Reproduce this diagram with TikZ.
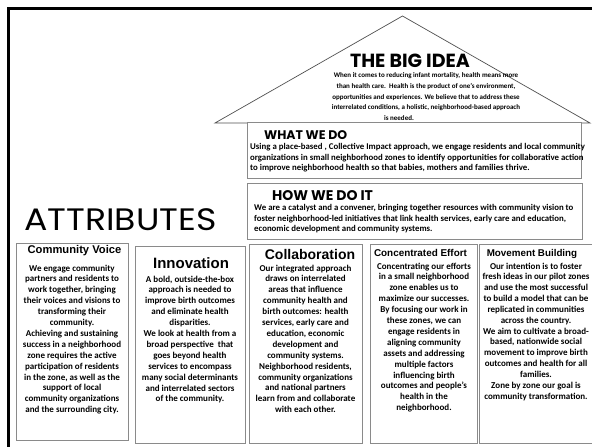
\documentclass[tikz,border=0pt]{standalone}
\usepackage{fontspec}
\usepackage{graphicx}
\setmainfont{Carlito}
\newfontfamily\arialf{Liberation Sans}
\newfontfamily\gothic{Poppins}
\definecolor{boxgray}{HTML}{8A8A8A}
\definecolor{roofgray}{HTML}{505050}
\begin{document}
\begin{tikzpicture}[x=1pt,y=-1pt,
  box/.style={draw=boxgray, line width=1pt},
  colbody/.style={font=\fontsize{9}{10.9}\selectfont\bfseries, align=center, inner sep=0pt, anchor=north},
  rowbody/.style={font=\fontsize{8.8}{10.5}\selectfont\bfseries, align=left, inner sep=0pt, anchor=north west},
  colhead/.style={font=\arialf\bfseries, inner sep=0pt, anchor=base},
  gtitle/.style={inner sep=0pt},
]
\useasboundingbox (0,0) rectangle (592,447);
\fill[white] (0,0) rectangle (592,447);
\begin{scope}
\clip (0,0) rectangle (592,447);
% outer frame
\draw[line width=3pt] (8.5,450) -- (8.5,8.5) -- (595,8.5);
% roof
\coordinate (rl) at (215,123);
\coordinate (rt) at (402.5,16);
\coordinate (rr) at (590,123);
\draw[roofgray, line width=0.7pt] (rl) -- (rt) -- (rr) -- cycle;
% rows
\draw[box, fill=white] (247,122) rectangle (581,178);
\draw[box] (247,183) rectangle (582,239);
% columns
\draw[box] (16,243) rectangle (128,440);
\draw[box] (135,246) rectangle (245,443);
\draw[box] (249,244) rectangle (362,443);
\draw[box] (370,244) rectangle (477,443);
\draw[box] (479,244) rectangle (598,443);
\end{scope}

% big idea
\node[gtitle, anchor=base, font=\gothic\bfseries\fontsize{19}{19}\selectfont] (bigidea) at (410,67) {THE BIG IDEA};
\node[font=\fontsize{7}{10.7}\selectfont\bfseries, align=center, inner sep=0pt, anchor=north] (bigtext) at (426,72.5)
 {When it comes to reducing infant mortality, health means more\\
  than health care.\ \ Health is the product of one’s environment,\\
  opportunities and experiences. We believe that to address these\\
  interrelated conditions, a holistic, neighborhood-based approach};
\node[font=\fontsize{7}{10.7}\selectfont\bfseries, inner sep=0pt, anchor=north] (bigend) at (399,115.3) {is needed.};

% what we do
\node[gtitle, anchor=base west, font=\gothic\bfseries\fontsize{12.5}{12.5}\selectfont] (whatdo) at (264,139) {WHAT WE DO};
\node[rowbody] (whattext) at (250,143.5)
 {Using a place-based , Collective Impact approach, we engage residents and local community\\
  organizations in small neighborhood zones to identify opportunities for collaborative action\\
  to improve neighborhood health so that babies, mothers and families thrive.};

% how we do it
\node[gtitle, anchor=base west, font=\gothic\bfseries\fontsize{14}{14}\selectfont] (howdo) at (272,200) {HOW WE DO IT};
\node[rowbody] (howtext) at (254,204.5)
 {We are a catalyst and a convener, bringing together resources with community vision to\\
  foster neighborhood-led initiatives that link health services, early care and education,\\
  economic development and community systems.};

% attributes
\node[gtitle, anchor=base west, font=\gothic\fontsize{31}{31}\selectfont] (attr) at (24,230) {\scalebox{1.12}[1]{ATTRIBUTES}};

% column heads
\node[colhead, font=\arialf\bfseries\fontsize{11.2}{11.2}\selectfont] (h1) at (74.5,253) {Community Voice};
\node[colhead, font=\arialf\bfseries\fontsize{15}{15}\selectfont] (h2) at (191,268.5) {Innovation};
\node[colhead, font=\arialf\bfseries\fontsize{14}{14}\selectfont] (h3) at (310,259) {Collaboration};
\node[colhead, font=\arialf\bfseries\fontsize{9.9}{9.9}\selectfont] (h4) at (420.5,256) {Concentrated Effort};
\node[colhead, font=\arialf\bfseries\fontsize{9.8}{9.8}\selectfont] (h5) at (532,256) {Movement Building};

% column bodies
\node[colbody] (t1) at (72,264.5)
 {We engage community\\ partners and residents to\\ work together, bringing\\ their voices and visions to\\
  transforming their\\ community.\\ Achieving and sustaining\\ success in a neighborhood\\
  zone requires the active\\ participation of residents\\ in the zone, as well as the\\
  support of local\\ community organizations\\ and the surrounding city.};
\node[colbody] (t2) at (190,275.5)
 {A bold, outside-the-box\\ approach is needed to\\ improve birth outcomes\\ and eliminate health\\
  disparities.\\ We look at health from a\\ broad perspective\ \ that\\ goes beyond health\\
  services to encompass\\ many social determinants\\ and interrelated sectors\\ of the community.};
\node[colbody] (t3) at (305.5,264.5)
 {Our integrated approach\\ draws on interrelated\\ areas that influence\\ community health and\\
  birth outcomes: health\\ services, early care and\\ education, economic\\ development and\\
  community systems.\\ Neighborhood residents,\\ community organizations\\ and national partners\\
  learn from and collaborate\\ with each other.};
\node[colbody] (t4) at (424,262.5)
 {Concentrating our efforts\\ in a small neighborhood\\ zone enables us to\\ maximize our successes.\\
  By focusing our work in\\ these zones, we can\\ engage residents in\\ aligning community\\
  assets and addressing\\ multiple factors\\ influencing birth\\ outcomes and people’s\\
  health in the\\ neighborhood.};
\node[colbody, font=\fontsize{9}{10.85}\selectfont\bfseries] (t5) at (536,262.5)
 {Our intention is to foster\\ fresh ideas in our pilot zones\\ and use the most successful\\
  to build a model that can be\\ replicated in communities\\ across the country.\\
  We aim to cultivate a broad-\\ based, nationwide social\\ movement to improve birth\\
  outcomes and health for all\\ families.\\ Zone by zone our goal is\\ community transformation.};
\end{tikzpicture}
\end{document}
